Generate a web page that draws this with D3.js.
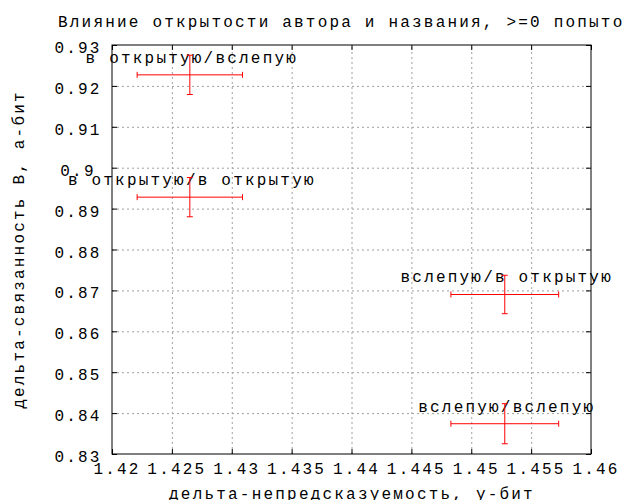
<!DOCTYPE html>
<html lang="ru">
<head>
<meta charset="utf-8">
<title>Влияние открытости автора и названия</title>
<script src="https://d3js.org/d3.v7.min.js"></script>
<style>
  body { margin: 0; background: #fff; }
  svg text { font-family: "Liberation Mono", "DejaVu Sans Mono", monospace; font-size: 16px; letter-spacing: 2.2px; fill: #000; }
  .grid line { stroke: #a0a0a0; stroke-dasharray: 2,3; }
  .bar { stroke: #ff0000; stroke-width: 1; fill: none; }
</style>
</head>
<body>
<div id="chart"></div>
<script>
// data
var labels = ["в открытую/вслепую", "в открытую/в открытую", "вслепую/в открытую", "вслепую/вслепую"];
var xVals  = [1.4265, 1.4265, 1.4528, 1.4528];
var xErrs  = [0.0044, 0.0044, 0.0045, 0.0045];
var yVals  = [0.9227, 0.8928, 0.8690, 0.8374];
var yErrs  = [0.0048, 0.0048, 0.0047, 0.0049];

var xTicks = [1.42, 1.425, 1.43, 1.435, 1.44, 1.445, 1.45, 1.455, 1.46];
var xTickLabels = ["1.42", "1.425", "1.43", "1.435", "1.44", "1.445", "1.45", "1.455", "1.46"];
var yTicks = [0.83, 0.84, 0.85, 0.86, 0.87, 0.88, 0.89, 0.9, 0.91, 0.92, 0.93];
var yTickLabels = ["0.83", "0.84", "0.85", "0.86", "0.87", "0.88", "0.89", "0.9", "0.91", "0.92", "0.93"];

var title = "Влияние открытости автора и названия, >=0 попыток";
var xTitle = "дельта-непредсказуемость, у-бит";
var yTitle = "дельта-связанность В, а-бит";

var W = 625, H = 500;
var mLeft = 112, mRight = 591, mTop = 45, mBottom = 454;

var x = d3.scaleLinear().domain([1.42, 1.46]).range([mLeft, mRight]);
var y = d3.scaleLinear().domain([0.83, 0.93]).range([mBottom, mTop]);

var svg = d3.select("#chart").append("svg")
    .attr("width", W)
    .attr("height", H);

// grid (dotted), inner ticks only
svg.append("g")
    .attr("class", "grid")
    .attr("transform", "translate(0," + mBottom + ")")
    .call(d3.axisBottom(x).tickValues(xTicks.slice(1, -1)).tickSize(-(mBottom - mTop)).tickFormat(""))
    .call(function(g) { g.select(".domain").remove(); });

svg.append("g")
    .attr("class", "grid")
    .attr("transform", "translate(" + mLeft + ",0)")
    .call(d3.axisLeft(y).tickValues(yTicks.slice(1, -1)).tickSize(-(mRight - mLeft)).tickFormat(""))
    .call(function(g) { g.select(".domain").remove(); });

// tick marks on all four sides, pointing inward
function ticks(axis, tr) {
    svg.append("g")
        .attr("transform", tr)
        .call(axis.tickSizeInner(-5).tickSizeOuter(0).tickFormat(""))
        .call(function(g) {
            g.select(".domain").remove();
            g.selectAll("line").attr("stroke", "#000");
        });
}
ticks(d3.axisBottom(x).tickValues(xTicks), "translate(0," + mBottom + ")");
ticks(d3.axisTop(x).tickValues(xTicks), "translate(0," + mTop + ")");
ticks(d3.axisLeft(y).tickValues(yTicks), "translate(" + mLeft + ",0)");
ticks(d3.axisRight(y).tickValues(yTicks), "translate(" + mRight + ",0)");

// frame
svg.append("rect")
    .attr("x", mLeft).attr("y", mTop)
    .attr("width", mRight - mLeft).attr("height", mBottom - mTop)
    .attr("fill", "none").attr("stroke", "#000");

// tick labels
svg.append("g").selectAll("text")
    .data(xTicks)
    .enter().append("text")
    .attr("x", function(d) { return x(d) + 5; })
    .attr("y", 474)
    .attr("text-anchor", "middle")
    .text(function(d, i) { return xTickLabels[i]; });

svg.append("g").selectAll("text")
    .data(yTicks)
    .enter().append("text")
    .attr("x", 78)
    .attr("y", function(d) { return y(d) + 8; })
    .attr("text-anchor", "middle")
    .text(function(d, i) { return yTickLabels[i]; });

// titles
svg.append("text")
    .attr("x", 58).attr("y", 27)
    .text(title);

svg.append("text")
    .attr("x", 352).attr("y", 499)
    .attr("text-anchor", "middle")
    .text(xTitle);

svg.append("text")
    .attr("transform", "translate(24," + ((mTop + mBottom) / 2) + ") rotate(-90)")
    .attr("text-anchor", "middle")
    .text(yTitle);

// point labels
svg.append("g").selectAll("text")
    .data(labels)
    .enter().append("text")
    .attr("x", function(d, i) { return x(xVals[i]) + 2; })
    .attr("y", function(d, i) { return y(yVals[i]) - 12; })
    .attr("text-anchor", "middle")
    .text(function(d) { return d; });

// xy error bars
var cap = 3;
var bars = svg.append("g").selectAll("g")
    .data(xVals)
    .enter().append("g")
    .attr("class", "bar");

bars.append("path")
    .attr("d", function(d, i) {
        var cx = x(d), cy = y(yVals[i]);
        var x0 = x(d - xErrs[i]), x1 = x(d + xErrs[i]);
        var y0 = y(yVals[i] - yErrs[i]), y1 = y(yVals[i] + yErrs[i]);
        return "M" + x0 + "," + cy + "H" + x1 +
               "M" + x0 + "," + (cy - cap) + "V" + (cy + cap) +
               "M" + x1 + "," + (cy - cap) + "V" + (cy + cap) +
               "M" + cx + "," + y0 + "V" + y1 +
               "M" + (cx - cap) + "," + y0 + "H" + (cx + cap) +
               "M" + (cx - cap) + "," + y1 + "H" + (cx + cap);
    });
</script>
</body>
</html>
